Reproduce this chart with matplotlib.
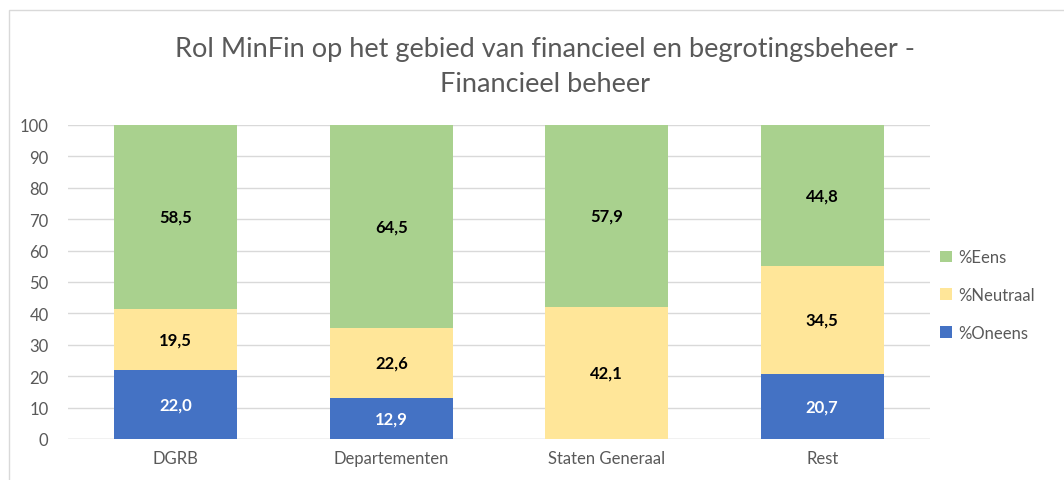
import matplotlib
matplotlib.use("Agg")
import matplotlib.pyplot as plt
from matplotlib.patches import Rectangle

categories = ["DGRB", "Departementen", "Staten Generaal", "Rest"]
oneens = [22.0, 12.9, 0.0, 20.7]
neutraal = [19.5, 22.6, 42.1, 34.5]
eens = [58.5, 64.5, 57.9, 44.8]
series_names = ["%Oneens", "%Neutraal", "%Eens"]
colors = ["#4472C4", "#FFE699", "#A9D18E"]
yticks = list(range(0, 101, 10))

plt.rcParams['font.family'] = ['Lato', 'DejaVu Sans']
fig = plt.figure(figsize=(10.64, 4.81), dpi=100)
fig.patches.append(Rectangle((9/1064, -0.01), 1.0, (481-11)/481 + 0.01, transform=fig.transFigure,
                             fill=False, edgecolor="#D9D9D9", linewidth=1.0))
ax = fig.add_axes([68/1064, 41/481, (930-68)/1064, (440-126)/481])

x = list(range(len(categories)))
w = 0.57
bottoms = [0]*len(categories)
handles = []
for vals, name, col in zip([oneens, neutraal, eens], series_names, colors):
    b = ax.bar(x, vals, w, bottom=bottoms, color=col, label=name, zorder=3)
    handles.append(b)
    for i, v in enumerate(vals):
        if v > 0:
            tc = "white" if col == "#4472C4" else "black"
            ax.text(x[i], bottoms[i] + v/2, f"{v:.1f}".replace(".", ","), ha="center", va="center",
                    fontsize=12, fontweight="bold", color=tc, zorder=4)
    bottoms = [bo + v for bo, v in zip(bottoms, vals)]

ax.set_xlim(-0.5, 3.5)
ax.set_ylim(0, 100)
ax.set_yticks(yticks)
ax.set_xticks(x)
ax.set_xticklabels(categories)
ax.tick_params(axis="both", length=0, labelsize=12, colors="#595959", pad=8)
ax.tick_params(axis="y", pad=14)
ax.grid(axis="y", color="#D9D9D9", linewidth=1, zorder=0)
for s in ax.spines.values():
    s.set_visible(False)
ax.axhline(0, color="#D9D9D9", linewidth=1, zorder=1)

fig.text(545/1064, 1 - 67/481,
         "Rol MinFin op het gebied van financieel en begrotingsbeheer -\nFinancieel beheer",
         ha="center", va="center", fontsize=19.5, color="#595959", linespacing=1.5)

leg = fig.legend(handles[::-1], series_names[::-1], loc="center left", bbox_to_anchor=(925/1064, (481-296)/481),
                 frameon=False, fontsize=12, handlelength=0.7, handleheight=0.7, labelspacing=1.3,
                 handletextpad=0.4)
for t in leg.get_texts():
    t.set_color("#595959")

fig.savefig("out.png", dpi=100)
